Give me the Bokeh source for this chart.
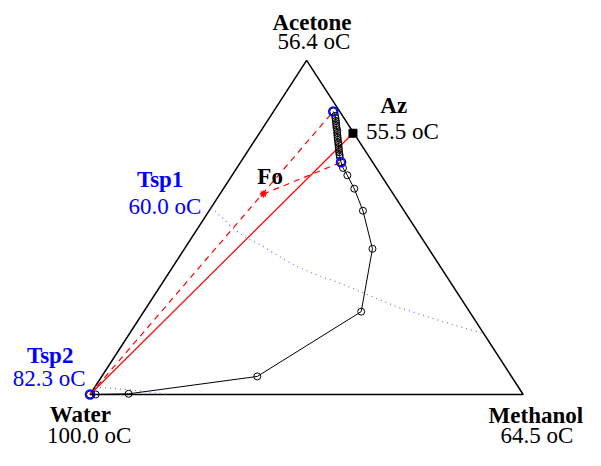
from bokeh.plotting import figure
from bokeh.models import Range1d, Label
from bokeh.embed import file_html
from bokeh.resources import INLINE

# ---- data (mole fractions) ----
components = ["Water", "Methanol", "Acetone"]
boiling_T = [100.0, 64.5, 56.4]

az_name = "Az"
az_T = 55.5
az_xA = 0.782
az_xM = 0.216

feed_name = "Fo"
feed_xA = 0.600
feed_xM = 0.100

tsp_names = ["Tsp1", "Tsp2"]
tsp_T = [60.0, 82.3]

# residue-curve / column profile points (acetone, methanol)
rc_xA = [0.000, 0.000, 0.002, 0.054, 0.248, 0.436, 0.550, 0.616, 0.656, 0.678,
         0.695, 0.711, 0.718, 0.725, 0.733, 0.740, 0.747, 0.754, 0.762, 0.769,
         0.776, 0.783, 0.791, 0.798, 0.805, 0.812, 0.819, 0.827, 0.834, 0.847]
rc_xM = [0.000, 0.013, 0.088, 0.359, 0.502, 0.434, 0.355, 0.302, 0.266, 0.245,
         0.232, 0.221, 0.217, 0.2125, 0.208, 0.204, 0.200, 0.196, 0.191, 0.187,
         0.183, 0.179, 0.175, 0.170, 0.166, 0.162, 0.158, 0.153, 0.149, 0.138]

# highlighted points: bottom (water), side draw, top
hl_xA = [0.000, 0.695, 0.847]
hl_xM = [0.000, 0.232, 0.138]

# isotherm Tsp1 (60.0 oC)
iso1_xA = [0.558, 0.526, 0.494, 0.468, 0.448, 0.419, 0.390, 0.361, 0.335,
           0.3035, 0.263, 0.231, 0.202, 0.182]
iso1_xM = [0.000, 0.045, 0.0856, 0.128, 0.169, 0.220, 0.272, 0.336, 0.406,
           0.480, 0.576, 0.667, 0.755, 0.818]

# isotherm Tsp2 (82.3 oC)
iso2_xA = [0.023, 0.0188, 0.0159, 0.0101, 0.0043, 0.000]
iso2_xM = [0.000, 0.031, 0.0707, 0.114, 0.1506, 0.182]


def tern(xA, xM):
    xs = [m + a / 2.0 for a, m in zip(xA, xM)]
    ys = list(xA)
    return xs, ys


W, H = 585, 450
RW, RH = 601, 466   # reference canvas the layout was measured on
p = figure(width=W, height=H, output_backend="svg", toolbar_location=None,
           x_axis_type=None, y_axis_type=None, min_border=0,
           x_range=Range1d(-92 / 445, (RW - 92) / 445),
           y_range=Range1d(-(RH - 408) / 346, 408 / 346))
p.grid.visible = False
p.outline_line_color = None
p.background_fill_color = "white"

TEXT_SHIFT = 7.5  # correction for baseline placement


def page(px, py):
    return (px - 92) / 445.0, (408 - py) / 346.0


# triangle
tx, ty = tern([0, 0, 1, 0], [0, 1, 0, 0])
p.line(tx, ty, line_color="black", line_width=1.5)

# isotherms
x1, y1 = tern(iso1_xA, iso1_xM)
p.line(x1, y1, line_color="#6f6fff", line_width=1.2, line_dash="1 4")
x2, y2 = tern(iso2_xA, iso2_xM)
p.line(x2, y2, line_color="#6f6fff", line_width=1.2, line_dash="1 4")

# red lines
wx, wy = tern([0.0], [0.0])
ax_, ay_ = tern([az_xA], [az_xM])
fx, fy = tern([feed_xA], [feed_xM])
hx, hy = tern(hl_xA, hl_xM)
p.line([wx[0], ax_[0]], [wy[0], ay_[0]], line_color="red", line_width=1.2)
p.line([wx[0], hx[2]], [wy[0], hy[2]], line_color="red", line_width=1.2, line_dash="6 5")
p.line([fx[0], hx[1]], [fy[0], hy[1]], line_color="red", line_width=1.2, line_dash="6 5")

# profile
rx, ry = tern(rc_xA, rc_xM)
p.line(rx, ry, line_color="black", line_width=1)
p.scatter(rx, ry, marker="circle", size=7, fill_color=None, line_color="black", line_width=1)
p.scatter(hx, hy, marker="circle", size=9, fill_color=None, line_color="blue", line_width=1.6)

# azeotrope & feed
p.scatter(ax_, ay_, marker="square", size=8, fill_color="black", line_color="black")
p.scatter(fx, fy, marker="asterisk", size=7, line_color="red", line_width=1.5)

FONT = "Liberation Serif"


def lab(text, px, py, color="black", bold=False, size="23px"):
    x, y = page(px, py - TEXT_SHIFT)
    p.add_layout(Label(x=x, y=y, text=text, text_font=FONT, text_font_size=size,
                       text_color=color, text_align="center",
                       text_baseline="alphabetic",
                       text_font_style="bold" if bold else "normal"))


lab(components[2], 320, 30, bold=True)
lab(f"{boiling_T[2]:.1f} oC", 322, 50)
lab(components[0], 82, 436, bold=True)
lab(f"{boiling_T[0]:.1f} oC", 91, 458)
lab(components[1], 550, 437, bold=True)
lab(f"{boiling_T[1]:.1f} oC", 551, 458)
lab(az_name, 404, 116.7, bold=True)
lab(f"{az_T:.1f} oC", 413, 143)
lab(feed_name, 277, 190, bold=True)
lab(tsp_names[0], 164, 193, color="blue", bold=True)
lab(f"{tsp_T[0]:.1f} oC", 169, 220.7, color="blue")
lab(tsp_names[1], 51, 375, color="blue", bold=True)
lab(f"{tsp_T[1]:.1f} oC", 50, 399, color="blue")

open("out.html", "w").write(file_html(p, INLINE))
